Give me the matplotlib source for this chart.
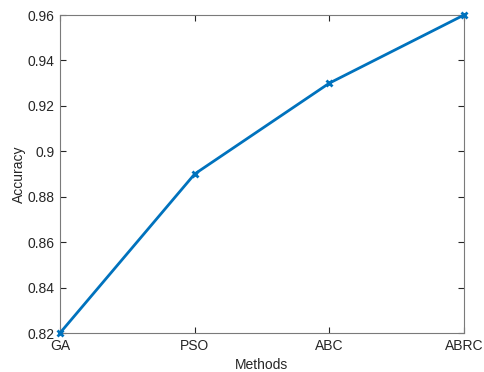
import matplotlib
matplotlib.use("Agg")
import matplotlib.pyplot as plt

methods = ["GA", "PSO", "ABC", "ABRC"]
accuracy = [0.82, 0.89, 0.93, 0.96]
yticks = [0.82, 0.84, 0.86, 0.88, 0.90, 0.92, 0.94, 0.96]
yticklabels = ["0.82", "0.84", "0.86", "0.88", "0.9", "0.92", "0.94", "0.96"]

plt.rcParams['font.family'] = ['Liberation Sans', 'DejaVu Sans']
fig = plt.figure(figsize=(4.84, 3.72), dpi=100)
ax = fig.add_axes([60/484, 1-333/372, 404/484, 318/372])
x = list(range(len(methods)))
ax.plot(x, accuracy, color="#0072BD", linewidth=2, marker="x", markersize=5, markeredgewidth=2, clip_on=False, zorder=5)
ax.set_xlim(0, 3)
ax.set_ylim(0.82, 0.96)
ax.set_xticks(x)
ax.set_xticklabels(methods)
ax.set_yticks(yticks)
ax.set_yticklabels(yticklabels)
for s in ax.spines.values():
    s.set_color("#7a7a7a")
    s.set_linewidth(0.8)
ax.tick_params(direction="in", length=4, width=0.8, color="#262626", labelsize=10, labelcolor="#262626", top=True, right=True, pad=4)
ax.set_xlabel("Methods", fontsize=10, color="#262626", labelpad=4)
ax.set_ylabel("Accuracy", fontsize=10, color="#262626", labelpad=1)
fig.savefig("out.png", dpi=100)
